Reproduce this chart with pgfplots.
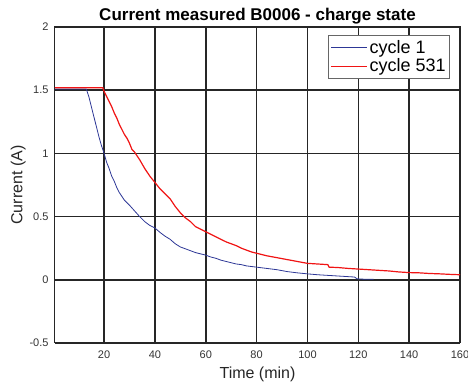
\documentclass[border=0pt]{standalone}
\usepackage{fontspec}
\setmainfont{Liberation Sans}
\usepackage{pgfplots}
\pgfplotsset{compat=1.18}
\definecolor{cycblue}{RGB}{45,55,150}
\definecolor{cycred}{RGB}{240,20,20}
\begin{document}
\begin{tikzpicture}
\begin{axis}[
  at={(0,0)}, anchor=south west,
  scale only axis, width=405pt, height=316pt,
  xmin=0.7, xmax=160, ymin=-0.5, ymax=2,
  xtick={20,40,...,160},
  ytick={-0.5,0,0.5,1.5,2},
  extra y ticks={1},
  extra y tick style={grid style={black!85, line width=0.8pt}},
  yticklabels={-0.5,0,0.5,1.5,2},
  extra y tick labels={1},
  /pgf/number format/assume math mode=true,
  tick label style={font=\fontsize{11}{12}\selectfont, text=black!80},
  xticklabel style={yshift=-4pt},
  yticklabel style={xshift=-3pt},
  major tick length=0pt,
  xmajorgrids, ymajorgrids,
  grid style={black!85, line width=1.6pt},
  axis line style={black!85, line width=1pt},
  title={\bfseries Current measured B0006 - charge state},
  title style={font=\fontsize{17}{19}\selectfont, yshift=-7pt},
  xlabel={Time (min)}, ylabel={Current (A)},
  label style={font=\fontsize{16}{18}\selectfont, text=black!85},
  xlabel style={yshift=-2pt},
  ylabel style={yshift=-3pt},
  legend style={at={(0.975,0.975)}, anchor=north east, draw=black!60, line width=0.6pt,
    font=\fontsize{18}{20}\selectfont, inner xsep=2pt, inner ysep=3pt,
    /tikz/every row/.append style={row sep=5pt},
    /tikz/every even column/.append style={column sep=0pt}},
  legend cell align=left,
  legend image code/.code={\draw[#1, line width=0.8pt] (0pt,0pt) -- (36pt,0pt);},
]
\addplot[color=cycblue, line width=0.8pt] coordinates {
(0.7,1.51) (5,1.51) (10,1.51) (13,1.51) (14,1.45) (15,1.37) (16,1.29) (17,1.21) (18,1.13) (19,1.06) (20,1.00) (21,0.93) (22,0.88) (23,0.82) (24,0.78) (25,0.73) (26,0.69) (27,0.66) (28,0.63) (29,0.61) (30,0.59) (32,0.545) (34,0.50) (36,0.46) (38,0.43) (40,0.41) (42,0.375) (44,0.345) (46,0.32) (48,0.285) (50,0.26) (52,0.245) (54,0.23) (56,0.215) (58,0.205) (60,0.195) (62,0.18) (64,0.17) (66,0.155) (68,0.145) (70,0.135) (72,0.125) (74,0.12) (76,0.11) (78,0.105) (80,0.10) (84,0.09) (88,0.08) (92,0.065) (96,0.055) (100,0.047) (104,0.04) (108,0.035) (112,0.03) (116,0.025) (118.5,0.022) (119.5,0.008) (122,0.005) (126,0.005)
};
\addlegendentry{cycle 1}
\addplot[color=cycred, line width=1.2pt] coordinates {
(0.7,1.52) (10,1.52) (19.5,1.52) (20,1.49) (21,1.45) (22,1.41) (23,1.37) (24,1.32) (25,1.28) (26,1.23) (27,1.19) (28,1.15) (29,1.12) (30,1.08) (31,1.03) (32,1.01) (34,0.95) (36,0.88) (38,0.82) (40,0.77) (42,0.72) (44,0.68) (46,0.64) (48,0.58) (50,0.53) (52,0.49) (54,0.46) (56,0.42) (58,0.40) (60,0.38) (62,0.36) (64,0.34) (66,0.32) (68,0.30) (70,0.285) (72,0.27) (74,0.25) (76,0.235) (78,0.22) (80,0.21) (84,0.19) (88,0.175) (92,0.16) (96,0.145) (100,0.13) (104,0.125) (108,0.12) (108.5,0.10) (112,0.097) (116,0.09) (120,0.085) (124,0.08) (128,0.075) (132,0.07) (136,0.062) (140,0.057) (144,0.055) (148,0.05) (152,0.047) (156,0.043) (160,0.04)
};
\addlegendentry{cycle 531}
\end{axis}
\pgfresetboundingbox
\path[use as bounding box] (-55pt,-44pt) rectangle (413pt,343pt);
\end{tikzpicture}
\end{document}
